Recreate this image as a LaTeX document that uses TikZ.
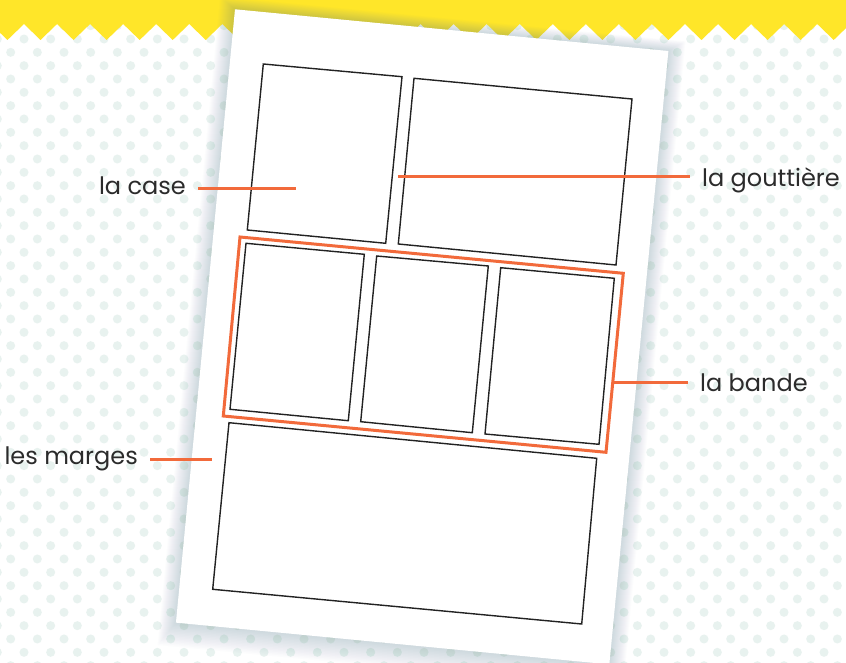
\documentclass[tikz,border=0pt]{standalone}
\usepackage{fontspec}
\setmainfont{Poppins}
\definecolor{yel}{HTML}{FFE629}
\definecolor{dotc}{HTML}{E8F2EF}
\definecolor{accent}{HTML}{F26A3B}
\definecolor{panelline}{HTML}{222222}
\definecolor{labeltext}{HTML}{2B2B2B}
\definecolor{shadowc}{HTML}{6C8A9B}
\begin{document}
\begin{tikzpicture}[x=1pt,y=-1pt,
  panel/.style={draw=panelline, line width=1.4pt, line join=miter},
  bandbox/.style={draw=accent, line width=3pt, line join=miter},
  conn/.style={draw=accent, line width=3pt},
  lbl/.style={font=\fontsize{24}{28}\selectfont, text=labeltext, inner xsep=12pt, inner ysep=0pt},
  dot/.style={fill=dotc},
]
\useasboundingbox (0,0) rectangle (846,663);
\clip (0,0) rectangle (846,663);
\fill[white] (0,0) rectangle (846,663);
% dotted background
\foreach \r in {0,...,50}{
  \pgfmathsetmacro{\yy}{25.67+13.333*\r}
  \pgfmathsetmacro{\xo}{ifthenelse(isodd(\r),24,10.67)}
  \foreach \c in {-1,...,32}{
    \fill[dot] ({\xo+26.667*\c},\yy) circle (4.5);
  }
}
% yellow zigzag band
\fill[yel] (-20,-5) -- (-20,24)
  \foreach \k in {-1,...,26}{ -- ({24+33.05*\k},24) -- ({40.5+33.05*\k},40) }
  -- (880,24) -- (880,-5) -- cycle;
% page with soft shadow
\begin{scope}[shift={(235,9.3)}, rotate=-5.5]
  \foreach \i in {1,...,16}{
    \fill[shadowc, opacity=0.02] ({-\i*1.0},{-\i*0.7}) rectangle ({435.4+\i*1.0},{616.2+\i*1.5});
  }
  \fill[white] (0,0) rectangle (435.4,616.2);
\end{scope}
% panels
\draw[panel] (263.3,64) -- (402,76.7) -- (385.7,243.3) -- (247.3,230) -- cycle;
\draw[panel] (414,78.3) -- (632,99) -- (616,265) -- (398.3,244) -- cycle;
\draw[panel] (246,243.3) -- (364.3,254.3) -- (348.3,420.7) -- (230,409.3) -- cycle;
\draw[panel] (376.7,256) -- (488.3,266) -- (472.3,432.7) -- (360.7,421.7) -- cycle;
\draw[panel] (500.7,267.7) -- (614.3,278.3) -- (599,444.3) -- (485,434) -- cycle;
\draw[panel] (229,422.7) -- (596.7,458.3) -- (581.7,624) -- (212.7,589.3) -- cycle;
% the strip (la bande)
\draw[bandbox] (240,237) -- (623.3,273.3) -- (606,452.3) -- (223.3,416) -- cycle;
% labels and connectors
\node[lbl, anchor=base east] (case) at (198,195) {la case};
\coordinate (caseend) at (296,188.7);
\draw[conn] (case.east |- caseend) -- (caseend);

\node[lbl, anchor=base west] (gout) at (690,186.7) {la gouttière};
\coordinate (goutend) at (398.3,176.7);
\draw[conn] (goutend) -- (gout.west |- goutend);

\node[lbl, anchor=base west] (bande) at (688,391.7) {la bande};
\coordinate (bandeend) at (613,382.7);
\draw[conn] (bandeend) -- (bande.west |- bandeend);

\node[lbl, anchor=base east] (marges) at (150,464) {les marges};
\coordinate (margesend) at (212,459.3);
\draw[conn] (marges.east |- margesend) -- (margesend);
\end{tikzpicture}
\end{document}
